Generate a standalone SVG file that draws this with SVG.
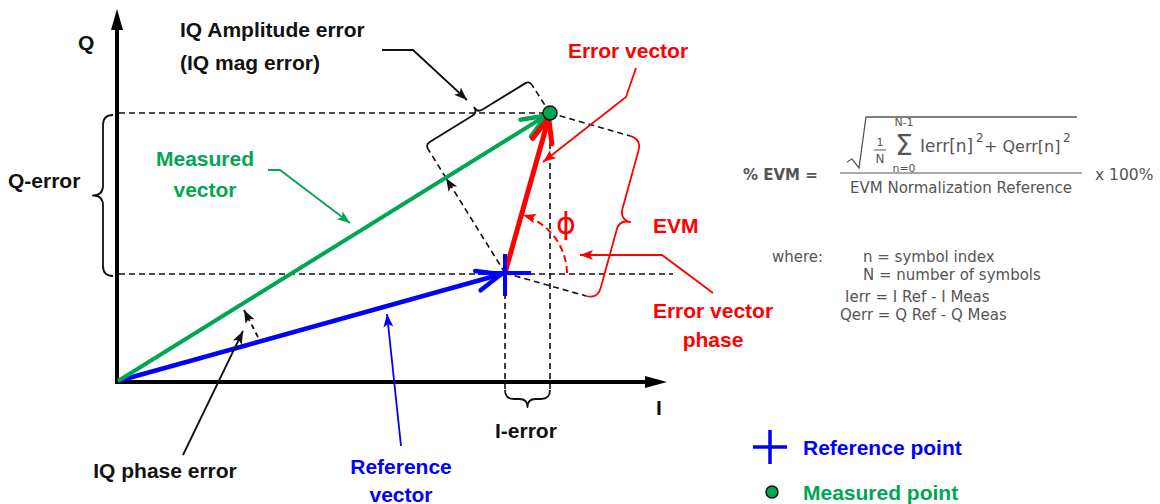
<svg xmlns="http://www.w3.org/2000/svg" width="1160" height="504" viewBox="0 0 1160 504">
<style>
.lbl{font-family:"Liberation Sans",Arial,sans-serif;font-weight:bold;font-size:21px}
.blk{fill:#111}
.grn{fill:#00a651}
.blu{fill:#0000ff}
.red{fill:#ff0000}
.dash{fill:none;stroke:#111;stroke-width:1.6;stroke-dasharray:6 4}
.frm{font-family:"DejaVu Sans",Verdana,sans-serif;fill:#555}
.brace{fill:none;stroke-width:1.8;stroke-linejoin:round}
</style>
<defs>
<marker id="chG" markerUnits="userSpaceOnUse" viewBox="-30 -15 35 30" markerWidth="35" markerHeight="30" refX="1" refY="0" orient="auto"><path d="M-24,-10 L0,0 L-24,10" fill="none" stroke="#00a651" stroke-width="4.5" stroke-linejoin="round" stroke-linecap="round"/></marker>
<marker id="chB" markerUnits="userSpaceOnUse" viewBox="-30 -15 35 30" markerWidth="35" markerHeight="30" refX="1" refY="0" orient="auto"><path d="M-24,-10 L0,0 L-24,10" fill="none" stroke="#0000ff" stroke-width="4.5" stroke-linejoin="round" stroke-linecap="round"/></marker>
<marker id="chR" markerUnits="userSpaceOnUse" viewBox="-30 -15 35 30" markerWidth="35" markerHeight="30" refX="1" refY="0" orient="auto"><path d="M-24,-10 L0,0 L-24,10" fill="none" stroke="#ff0000" stroke-width="5" stroke-linejoin="round" stroke-linecap="round"/></marker>
<marker id="aK" markerUnits="userSpaceOnUse" viewBox="-14 -7 16 14" markerWidth="16" markerHeight="14" refX="0" refY="0" orient="auto"><path d="M-13,-5 L0,0 L-13,5 L-10,0 z" fill="#111"/></marker>
<marker id="aG" markerUnits="userSpaceOnUse" viewBox="-14 -7 16 14" markerWidth="16" markerHeight="14" refX="0" refY="0" orient="auto"><path d="M-13,-5 L0,0 L-13,5 L-10,0 z" fill="#00a651"/></marker>
<marker id="aB" markerUnits="userSpaceOnUse" viewBox="-14 -7 16 14" markerWidth="16" markerHeight="14" refX="0" refY="0" orient="auto"><path d="M-13,-5 L0,0 L-13,5 L-10,0 z" fill="#0000ff"/></marker>
<marker id="aR" markerUnits="userSpaceOnUse" viewBox="-14 -7 16 14" markerWidth="16" markerHeight="14" refX="0" refY="0" orient="auto"><path d="M-13,-5 L0,0 L-13,5 L-10,0 z" fill="#ff0000"/></marker>
</defs>
<rect width="1160" height="504" fill="#fff"/>

<!-- dashed construction lines -->
<g id="guides">
<line class="dash" x1="119" y1="113" x2="550" y2="113"/>
<line class="dash" x1="119" y1="274" x2="673" y2="274"/>
<line class="dash" x1="550" y1="113" x2="550" y2="390"/>
<line class="dash" x1="505" y1="273" x2="505" y2="390"/>
<line class="dash" x1="550" y1="113" x2="630" y2="136"/>
<line class="dash" x1="505" y1="273" x2="586" y2="296"/>
<line class="dash" x1="550" y1="113" x2="532" y2="85"/>
<line class="dash" x1="505" y1="273" x2="446" y2="178" marker-end="url(#aK)"/>
<line class="dash" x1="446" y1="178" x2="428" y2="149"/>
</g>

<!-- axes -->
<g id="axes">
<line x1="117" y1="384" x2="117" y2="26" stroke="#000" stroke-width="4"/>
<polygon points="117,9 111,30 123,30" fill="#000"/>
<line x1="115" y1="382" x2="648" y2="382" stroke="#000" stroke-width="4"/>
<polygon points="667,382 645,376 645,388" fill="#000"/>
<text class="lbl blk" x="78" y="50">Q</text>
<text class="lbl blk" x="656" y="415">I</text>
</g>

<!-- braces -->
<g id="q-error">
<path class="brace" stroke="#111" transform="translate(113,115) rotate(90)" d="M0,0 Q0,10 10,10 L70.5,10 Q80.5,10 80.5,20 Q80.5,10 90.5,10 L151,10 Q161,10 161,0"/>
<text class="lbl blk" x="8" y="188">Q-error</text>
</g>
<g id="i-error">
<path class="brace" stroke="#111" transform="translate(505,390)" d="M0,0 Q0,9 9,9 L14.5,9 Q22.5,9 22.5,17 Q22.5,9 30.5,9 L36,9 Q45,9 45,0"/>
<text class="lbl blk" x="495" y="438">I-error</text>
</g>
<g id="evm">
<path class="brace" stroke="#ff0000" transform="translate(586,296) rotate(-74.6)" d="M0,0 Q0,12 12,12 L72,12 Q83,12 83,23 Q83,12 94,12 L154,12 Q166,12 166,0"/>
<text class="lbl red" x="653" y="233">EVM</text>
</g>
<g id="iq-amplitude-error">
<path class="brace" stroke="#111" transform="translate(532,85) rotate(148.4)" d="M0,0 Q0,5 5,5 L55,5 Q61,5 61,11 Q61,5 67,5 L117,5 Q122,5 122,0"/>
<text class="lbl blk" x="180" y="37">IQ Amplitude error</text>
<text class="lbl blk" x="180" y="70">(IQ mag error)</text>
</g>

<!-- vectors -->
<g id="vectors">
<line x1="118" y1="381" x2="502" y2="274" stroke="#0000ff" stroke-width="4.5" marker-end="url(#chB)"/>
<line x1="118" y1="381" x2="547" y2="115" stroke="#00a651" stroke-width="4" marker-end="url(#chG)"/>
<line x1="505" y1="273" x2="549" y2="117" stroke="#ff0000" stroke-width="5" marker-end="url(#chR)"/>
<path d="M567,273 A62,62 0 0 0 523,215" fill="none" stroke="#ff0000" stroke-width="2" stroke-dasharray="7 4" marker-end="url(#aR)"/>
<text x="566" y="234" text-anchor="middle" font-family="DejaVu Sans, sans-serif" font-size="30" fill="#ff0000">ϕ</text>
</g>

<g id="reference-point">
<line x1="478" y1="273" x2="531" y2="273" stroke="#0000ff" stroke-width="4"/>
<line x1="505" y1="254" x2="505" y2="296" stroke="#0000ff" stroke-width="4"/>
</g>
<g id="measured-point">
<circle cx="550" cy="113" r="7" fill="#00a651" stroke="#111" stroke-width="1.5"/>
</g>

<!-- label leaders -->
<g id="connectors" fill="none">
<polyline points="382,50 413,50 467,100" stroke="#111" stroke-width="1.8" marker-end="url(#aK)"/>
<polyline points="268,170 280,170 350,223" stroke="#00a651" stroke-width="1.8" marker-end="url(#aG)"/>
<polyline points="636,68 626,97 543,162" stroke="#ff0000" stroke-width="1.8" marker-end="url(#aR)"/>
<polyline points="713,293 662,255 580,255" stroke="#ff0000" stroke-width="1.8" marker-end="url(#aR)"/>
<line x1="401" y1="446" x2="387" y2="314" stroke="#0000ff" stroke-width="1.8" marker-end="url(#aB)"/>
<line x1="183" y1="455" x2="243" y2="331" stroke="#111" stroke-width="1.8" marker-end="url(#aK)"/>
<line x1="258" y1="337" x2="244" y2="310" stroke="#111" stroke-width="1.8" stroke-dasharray="5 4" marker-end="url(#aK)"/>
</g>

<g id="labels">
<text class="lbl grn" x="205" y="166" text-anchor="middle">Measured</text>
<text class="lbl grn" x="205" y="197" text-anchor="middle">vector</text>
<text class="lbl red" x="628" y="58" text-anchor="middle">Error vector</text>
<text class="lbl red" x="713" y="318" text-anchor="middle">Error vector</text>
<text class="lbl red" x="713" y="347" text-anchor="middle">phase</text>
<text class="lbl blk" x="165" y="478" text-anchor="middle">IQ phase error</text>
<text class="lbl blu" x="401" y="474" text-anchor="middle">Reference</text>
<text class="lbl blu" x="401" y="502" text-anchor="middle">vector</text>
</g>

<!-- formula -->
<g id="formula">
<text class="frm" x="743" y="180" font-size="15" font-weight="bold" fill="#444">% EVM =</text>
<path d="M847,162 L852,159 L859,168 L866,117 L1077,117" fill="none" stroke="#555" stroke-width="1.3"/>
<text class="frm" x="880" y="146" font-size="11" text-anchor="middle">1</text>
<line x1="874" y1="150" x2="886" y2="150" stroke="#555" stroke-width="1"/>
<text class="frm" x="880" y="163" font-size="12" text-anchor="middle">N</text>
<text class="frm" x="904" y="126" font-size="11" text-anchor="middle">N-1</text>
<text class="frm" x="904" y="155" font-size="28" text-anchor="middle">Σ</text>
<text class="frm" x="904" y="172" font-size="11" text-anchor="middle">n=0</text>
<text class="frm" x="920" y="152" font-size="17">Ierr[n]</text>
<text class="frm" x="976" y="142" font-size="12">2</text>
<text class="frm" x="984" y="152" font-size="16">+ Qerr[n]</text>
<text class="frm" x="1063" y="142" font-size="12">2</text>
<line x1="840" y1="173" x2="1082" y2="173" stroke="#555" stroke-width="1.2"/>
<text class="frm" x="961" y="193" font-size="15" text-anchor="middle">EVM Normalization Reference</text>
<text class="frm" x="1095" y="180" font-size="15.5">x 100%</text>
</g>

<g id="where">
<text class="frm" x="772" y="262" font-size="15">where:</text>
<text class="frm" x="863" y="262" font-size="15">n = symbol index</text>
<text class="frm" x="863" y="280" font-size="15">N = number of symbols</text>
<text class="frm" x="845" y="302" font-size="15">Ierr = I Ref - I Meas</text>
<text class="frm" x="840" y="320" font-size="15">Qerr = Q Ref - Q Meas</text>
</g>

<!-- legend -->
<g id="legend-reference">
<line x1="753" y1="447" x2="787" y2="447" stroke="#0000ff" stroke-width="3.5"/>
<line x1="770" y1="430" x2="770" y2="464" stroke="#0000ff" stroke-width="3.5"/>
<text class="lbl blu" x="803" y="455">Reference point</text>
</g>
<g id="legend-measured">
<circle cx="772" cy="492" r="6" fill="#00a651" stroke="#111" stroke-width="1.5"/>
<text class="lbl grn" x="803" y="500">Measured point</text>
</g>
</svg>
